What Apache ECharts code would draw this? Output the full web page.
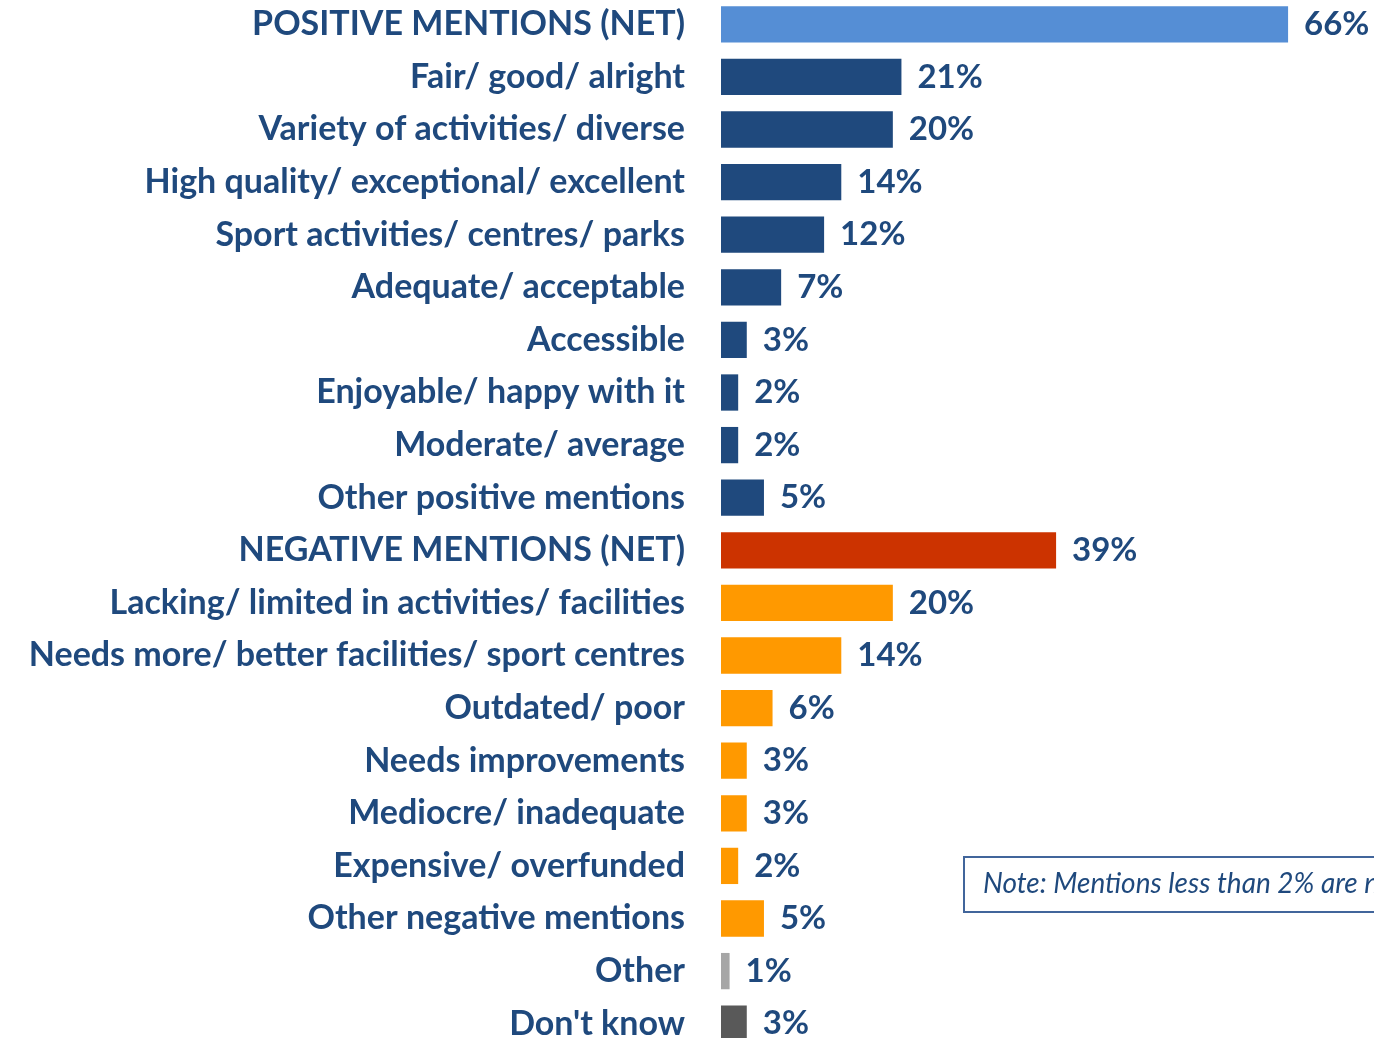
<!DOCTYPE html>
<html>
<head>
<meta charset="utf-8">
<script src="https://cdn.jsdelivr.net/npm/echarts@6/dist/echarts.min.js"></script>
<style>
  html, body { margin: 0; padding: 0; background: #fff; }
  #chart { width: 1374px; height: 1038px; }
</style>
</head>
<body>
<div id="chart"></div>
<script>
const categories = [
  'POSITIVE MENTIONS (NET)',
  'Fair/ good/ alright',
  'Variety of activities/ diverse',
  'High quality/ exceptional/ excellent',
  'Sport activities/ centres/ parks',
  'Adequate/ acceptable',
  'Accessible',
  'Enjoyable/ happy with it',
  'Moderate/ average',
  'Other positive mentions',
  'NEGATIVE MENTIONS (NET)',
  'Lacking/ limited in activities/ facilities',
  'Needs more/ better facilities/ sport centres',
  'Outdated/ poor',
  'Needs improvements',
  'Mediocre/ inadequate',
  'Expensive/ overfunded',
  'Other negative mentions',
  'Other',
  "Don't know"
]
const values = [66, 21, 20, 14, 12, 7, 3, 2, 2, 5, 39, 20, 14, 6, 3, 3, 2, 5, 1, 3]
const groups = [
  'posNet', 'pos', 'pos', 'pos', 'pos', 'pos', 'pos', 'pos', 'pos', 'pos',
  'negNet', 'neg', 'neg', 'neg', 'neg', 'neg', 'neg', 'neg', 'other', 'dk'
]
const noteText = 'Note: Mentions less than 2% are not shown'

const groupColors = {
  posNet: '#558ED5',
  pos: '#1F497D',
  negNet: '#CC3300',
  neg: '#FF9900',
  other: '#A6A6A6',
  dk: '#595959'
}
const textColor = '#1F497D'
const font = 'Lato, "Open Sans", sans-serif'

const chart = echarts.init(document.getElementById('chart'))

const option = {
  animation: false,
  grid: { left: 721, right: 0, top: -2, bottom: -12, outerBoundsMode: 'none' },
  xAxis: {
    type: 'value',
    min: 0,
    max: 76,
    show: false
  },
  yAxis: {
    type: 'category',
    inverse: true,
    data: categories,
    axisLine: { show: false },
    axisTick: { show: false },
    axisLabel: {
      margin: 36,
      color: textColor,
      fontFamily: font,
      fontWeight: 'bold',
      fontSize: 34
    }
  },
  series: [
    {
      type: 'bar',
      barCategoryGap: '31%',
      data: values.map((v, i) => ({
        value: v,
        itemStyle: { color: groupColors[groups[i]] }
      })),
      label: {
        show: true,
        position: 'right',
        distance: 16,
        formatter: '{c}%',
        color: textColor,
        fontFamily: font,
        fontWeight: 'bold',
        fontSize: 33
      }
    }
  ],
  graphic: [
    {
      type: 'rect',
      left: 963,
      top: 856,
      shape: { width: 440, height: 55 },
      style: { fill: '#fff', stroke: '#41659B', lineWidth: 2 }
    },
    {
      type: 'text',
      left: 983,
      top: 870,
      style: {
        text: noteText,
        fill: textColor,
        font: 'italic 28px ' + font
      }
    }
  ]
}

chart.setOption(option)
window.addEventListener('resize', () => chart.resize())
</script>
</body>
</html>
